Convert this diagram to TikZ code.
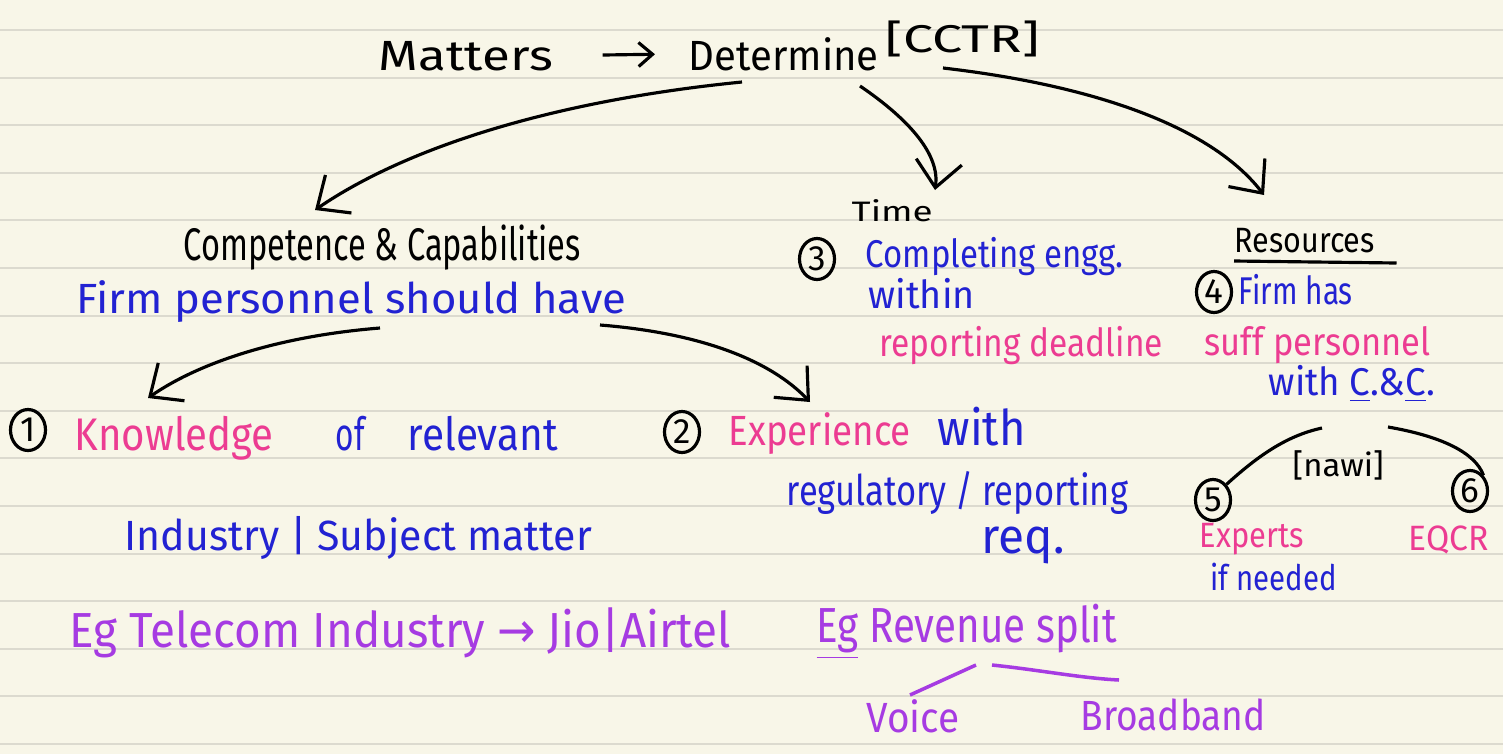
\documentclass[tikz,border=0pt]{standalone}
\usepackage{fontspec}
\setmainfont{Fira Sans}
\newfontfamily\symf{DejaVu Sans}
\usetikzlibrary{arrows.meta,shapes.geometric,calc}
\definecolor{paper}{HTML}{F8F6E8}
\definecolor{rulec}{HTML}{DCDACF}
\definecolor{inkblue}{HTML}{2222D2}
\definecolor{inkpink}{HTML}{EC3C92}
\definecolor{inkpurple}{HTML}{A63BE2}
\newcommand{\hw}[2]{\resizebox{#1cm}{\height}{#2}}
\newcommand{\fs}[1]{\fontsize{#1}{#1}\selectfont}
\begin{document}
\begin{tikzpicture}[x=0.01cm,y=-0.01cm,
  txt/.style={inner sep=0pt,anchor=base west},
  blk/.style={txt,text=black},
  blu/.style={txt,text=inkblue},
  pnk/.style={txt,text=inkpink},
  prp/.style={txt,text=inkpurple},
  num/.style={draw=black,line width=0.9pt,ellipse,minimum width=0.35cm,minimum height=0.41cm,inner sep=0pt,font=\fs{10}},
  conn/.style={draw=black,line width=0.9pt,-{Straight Barb[length=2.6mm,width=4.6mm]}},
  ink/.style={draw=black,line width=0.9pt},
  ruleline/.style={draw=rulec,line width=0.6pt}]
\fill[paper] (0,0) rectangle (1503,754);
\useasboundingbox (0,0) rectangle (1503,754);
\foreach \i in {0,...,15}{\draw[ruleline] (0,{30+47.6*\i}) -- (1503,{30+47.6*\i});}

% top line
\node[blk,font=\fs{12}] (mat) at (378,70) {\hw{1.74}{Matters}};
\node[blk,font=\fs{12}] (det) at (688,70) {\hw{1.90}{Determine}};
\node[blk,font=\fs{11}] (cctr) at (885,52) {\hw{1.54}{[CCTR]}};
\draw[draw=black,line width=0.9pt,-{Straight Barb[length=1.4mm,width=2.4mm]},shorten <=0.49cm,shorten >=0.33cm] (mat.east) -- (det.west);

% Time branch
\node[blk,font=\fs{8}] (time) at (851,221) {\hw{0.81}{Time}};
\node[num] (n3) at (817,259) {3};
\node[blu,font=\fs{11}] (comp) at (865,267) {\hw{2.58}{Completing engg.}};
\node[blu,font=\fs{11}] (within) at (868,308) {\hw{1.06}{within}};
\node[pnk,font=\fs{11}] (rep) at (879,356) {\hw{2.83}{reporting deadline}};

% Resources branch
\node[blk,font=\fs{10}] (res) at (1234,252) {\hw{1.40}{Resources}};
\draw[ink] ($(res.base west)+(0,9)$) -- ($(res.base east)+(21,11)$);
\node[num] (n4) at (1214,292) {4};
\node[blu,font=\fs{11}] (firm) at (1238,304) {\hw{1.14}{Firm has}};
\node[pnk,font=\fs{11}] (suff) at (1204,355) {\hw{2.26}{suff personnel}};
\node[blu,font=\fs{11}] (wcc) at (1268,395) {\hw{1.66}{with \underline{C}.\&\underline{C}.}};
\node[blk,font=\fs{9}] (naw) at (1292,476) {\hw{0.91}{[nawi]}};
\node[num] (n5) at (1213,500) {5};
\node[num] (n6) at (1470,491) {6};
\coordinate (a1) at (1322,428);
\coordinate (a2) at (1388,427);
\draw[ink] (n5.north east) .. controls (1262,452) and (1290,435) .. (a1);
\draw[ink] (a2) .. controls (1440,436) and (1475,452) .. (n6.north east);
\node[pnk,font=\fs{10}] (exp) at (1199,547) {\hw{1.04}{Experts}};
\node[blu,font=\fs{10}] (ifn) at (1210,590) {\hw{1.26}{if needed}};
\node[pnk,font=\fs{10}] (eqcr) at (1408,550) {\hw{0.80}{EQCR}};

% Competence branch
\node[blk,font=\fs{13}] (cc) at (183,260) {\hw{3.97}{Competence \& Capabilities}};
\node[blu,font=\fs{12}] (fp) at (76,313) {\hw{5.49}{Firm personnel should have}};
\node[num] (n1) at (28,430) {1};
\node[pnk,font=\fs{13}] (know) at (74,450) {\hw{1.99}{Knowledge}};
\node[blu,font=\fs{13}] (of) at (335,450) {\hw{0.29}{of}};
\node[blu,font=\fs{13}] (relv) at (407,450) {\hw{1.50}{relevant}};
\node[blu,font=\fs{12}] (ind) at (124,550) {\hw{4.67}{Industry | Subject matter}};
\node[prp,font=\fs{14}] (egt) at (69,647) {\hw{6.61}{Eg Telecom Industry {\symf →} Jio|Airtel}};

\node[num] (n2) at (682,432) {2};
\node[pnk,font=\fs{12}] (expe) at (728,445) {\hw{1.82}{Experience}};
\node[blu,font=\fs{14}] (with) at (937,445) {\hw{0.88}{with}};
\node[blu,font=\fs{12}] (reg) at (786,505) {\hw{3.41}{regulatory / reporting}};
\node[blu,font=\fs{14}] (req) at (981,553) {\hw{0.83}{req.}};
\node[prp,font=\fs{14}] (rev) at (816,642) {\hw{3.00}{\underline{Eg} Revenue split}};
\node[prp,font=\fs{12}] (voice) at (866,732) {\hw{0.93}{Voice}};
\node[prp,font=\fs{12}] (bb) at (1080,730) {\hw{1.85}{Broadband}};
\coordinate (s0) at (910,695);
\coordinate (s1) at (976,665);
\coordinate (s2) at (992,665);
\coordinate (s3) at (1119,680);
\draw[draw=inkpurple,line width=1pt] (s0) -- (s1);
\draw[draw=inkpurple,line width=1pt] (s2) .. controls (1040,670) and (1080,678) .. (s3);

% main arrows
\coordinate (dA) at (742,82);
\coordinate (dB) at (860,86);
\coordinate (dC) at (943,68);
\coordinate (tA) at (315,210);
\coordinate (tB) at (935,190);
\coordinate (tC) at (1264,195);
\draw[conn] (dA) .. controls (560,100) and (410,145) .. (tA);
\draw[conn] (dB) .. controls (910,120) and (940,155) .. (tB);
\draw[conn] (dC) .. controls (1090,85) and (1210,125) .. (tC);
\coordinate (fA) at (380,328);
\coordinate (fB) at (600,325);
\coordinate (tD) at (148,398);
\coordinate (tE) at (810,402);
\draw[conn] (fA) .. controls (280,336) and (200,362) .. (tD);
\draw[conn] (fB) .. controls (700,333) and (770,360) .. (tE);
\end{tikzpicture}
\end{document}
